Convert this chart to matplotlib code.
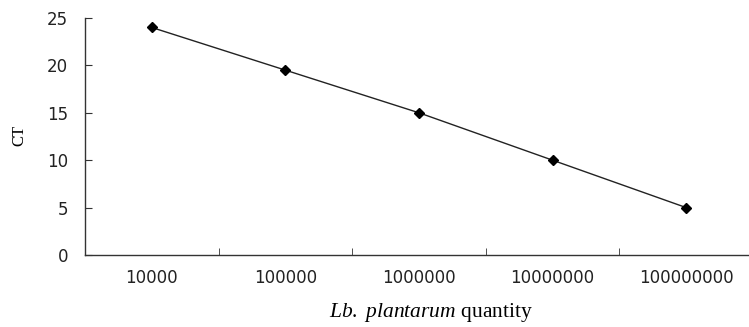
import matplotlib
matplotlib.use("Agg")
import matplotlib.pyplot as plt

categories = ["10000", "100000", "1000000", "10000000", "100000000"]
ct_values = [24, 19.5, 15, 10, 5]
y_ticks = [0, 5, 10, 15, 20, 25]

plt.rcParams['mathtext.fontset'] = 'custom'
plt.rcParams['mathtext.it'] = 'Liberation Serif:italic'
plt.rcParams['mathtext.rm'] = 'Liberation Serif'

fig = plt.figure(figsize=(7.49, 3.27), dpi=100)
ax = fig.add_axes([85/749, 1-255/327, 1-85/749, (255-18)/327])

x = list(range(len(categories)))
ax.plot(x, ct_values, color='#222222', linewidth=1.0, marker='D', markersize=5,
        markerfacecolor='black', markeredgecolor='black')

ax.set_xlim(-0.5, 4.47)
ax.set_ylim(0, 25)
ax.set_yticks(y_ticks)
ax.set_xticks(x)
ax.set_xticklabels(categories)
ax.set_xticks([i + 0.5 for i in range(len(categories) - 1)], minor=True)

for s in ['top', 'right']:
    ax.spines[s].set_visible(False)
for s in ['left', 'bottom']:
    ax.spines[s].set_color('#333333')
    ax.spines[s].set_linewidth(1.0)

ax.tick_params(axis='x', which='major', length=0, pad=10, labelsize=12,
               labelcolor='#222222', labelfontfamily='DejaVu Sans')
ax.tick_params(axis='x', which='minor', direction='in', length=5, color='#333333')
ax.tick_params(axis='y', direction='in', length=5, pad=12, labelsize=12,
               color='#333333', labelcolor='#222222', labelfontfamily='DejaVu Sans')

ax.set_xlabel(r'$\it{Lb.\ plantarum}$ quantity', fontsize=15.5,
              fontfamily='Liberation Serif')
ax.xaxis.set_label_coords((431-85)/664, (255-301)/237)
ax.set_ylabel('CT', fontsize=12, fontfamily='Liberation Serif')
ax.yaxis.set_label_coords((19-85)/664, (255-135)/237)
ax.yaxis.label.set_verticalalignment('center')

fig.savefig('out.png', dpi=100)
